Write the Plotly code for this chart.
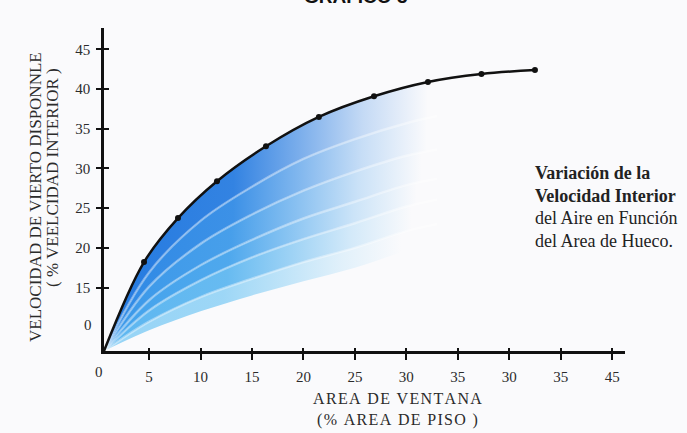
import plotly.graph_objects as go

# Interior air speed (% of available wind speed) against window area (% of floor area)
CURVE_X = [0.62, 4.51, 7.81, 11.60, 16.36, 21.50, 26.86, 32.10, 37.30, 42.50]
CURVE_Y = [7.0, 18.2, 23.75, 28.4, 32.8, 36.5, 39.1, 40.9, 41.9, 42.4]

# Axis ticks (labels as printed on the chart)
X_TICK_VALS = [5, 10, 15, 20, 25, 30, 35, 40, 45, 50]
X_TICK_TEXT = ["5", "10", "15", "20", "25", "30", "35", "30", "35", "45"]
Y_TICK_VALS = [15, 20, 25, 30, 35, 40, 45]
Y_TICK_TEXT = ["15", "20", "25", "30", "35", "40", "45"]

# Blue fan under the curve: lower edge and the light streaks inside it
FAN_X = [0.62, 5, 10, 15, 20, 25, 30, 33]
FAN_LOWER = [7.0, 9.6, 12.0, 14.0, 15.8, 17.5, 19.6, 20.5]
FAN_STREAKS = [
    [7.0, 10.7, 13.8, 16.1, 18.2, 20.0, 22.1, 23.0],
    [7.0, 12.1, 15.9, 18.8, 21.1, 23.1, 25.2, 26.1],
    [7.0, 13.4, 17.8, 21.0, 23.7, 25.8, 27.9, 28.7],
    [7.0, 15.1, 20.5, 24.2, 27.2, 29.6, 31.6, 32.4],
    [7.0, 16.9, 23.4, 27.7, 31.2, 33.7, 35.7, 36.6],
]
BAND_RGB = [(150, 212, 246), (92, 182, 240), (66, 162, 236),
            (58, 152, 233), (46, 137, 229), (36, 122, 224)]
BAND_STOP = [29.5, 30.5, 31.0, 31.5, 32.0, 32.1]

SERIF = "Liberation Serif, Times New Roman, serif"
INK = "#2b2b2b"
BG = "#fafafc"
HAIR = "\u200a"


def fade_scale(rgb):
    r, g, b = rgb
    stops = [(0.0, 1.0), (0.4, 0.93), (0.6, 0.6), (0.8, 0.25), (1.0, 0.0)]
    return [[p, f"rgba({r},{g},{b},{a})"] for p, a in stops]


def spaced(text):
    return HAIR.join(text)


fig = go.Figure()

# lower edge of the fan (no fill)
fig.add_trace(go.Scatter(x=FAN_X, y=FAN_LOWER, mode="lines",
                         line=dict(width=0, shape="spline"),
                         hoverinfo="skip", showlegend=False))

edges = [(FAN_X, s) for s in FAN_STREAKS] + [(CURVE_X[:8], CURVE_Y[:8])]
for i, (ex, ey) in enumerate(edges):
    is_top = i == len(edges) - 1
    fig.add_trace(go.Scatter(
        x=ex, y=ey, mode="lines", fill="tonexty",
        fillgradient=dict(type="horizontal", colorscale=fade_scale(BAND_RGB[i]),
                          start=0.62, stop=BAND_STOP[i]),
        line=dict(width=0 if is_top else 2.5, shape="spline",
                  color="rgba(255,255,255,0.38)"),
        hoverinfo="skip", showlegend=False))

# black curve with its points
fig.add_trace(go.Scatter(x=CURVE_X, y=CURVE_Y, mode="lines",
                         line=dict(color="#111111", width=2.5, shape="spline"),
                         hoverinfo="skip", showlegend=False))
fig.add_trace(go.Scatter(x=CURVE_X[1:], y=CURVE_Y[1:], mode="markers",
                         marker=dict(color="#111111", size=6),
                         hoverinfo="skip", showlegend=False))

axis_common = dict(showgrid=False, zeroline=False, linecolor="#111111",
                   linewidth=2.5, showline=True, ticks="outside",
                   tickcolor="#111111", tickwidth=1.5,
                   tickfont=dict(family=SERIF, size=15, color=INK))

fig.update_layout(
    width=687, height=433,
    margin=dict(l=104, r=62, t=28, b=82),
    paper_bgcolor=BG, plot_bgcolor=BG,
    xaxis=dict(range=[0.62, 51.25], tickvals=X_TICK_VALS, ticktext=X_TICK_TEXT,
               ticklen=6, ticklabelstandoff=4, **axis_common),
    yaxis=dict(range=[7.0, 47.7], tickvals=Y_TICK_VALS, ticktext=Y_TICK_TEXT,
               ticklen=5, ticklabelstandoff=3, **axis_common),
    xaxis2=dict(overlaying="x", matches="x", anchor="y", side="bottom",
                tickvals=X_TICK_VALS, ticks="inside", ticklen=3,
                tickcolor="#111111", tickwidth=1.5, showticklabels=False,
                showgrid=False, zeroline=False, showline=False),
    yaxis2=dict(overlaying="y", matches="y", anchor="x", side="left",
                tickvals=Y_TICK_VALS, ticks="inside", ticklen=5,
                tickcolor="#111111", tickwidth=1.5, showticklabels=False,
                showgrid=False, zeroline=False, showline=False),
    showlegend=False,
)
# a hidden trace so the overlay axes are drawn
fig.add_trace(go.Scatter(x=[None], y=[None], xaxis="x2", yaxis="y2",
                         showlegend=False, hoverinfo="skip"))


def px_x(px):
    return (px - 104) / 521


def px_y(py):
    return (351 - py) / 323


def label(text, x, y, size, **kw):
    d = dict(text=text, xref="paper", yref="paper", x=x, y=y,
             xanchor="center", yanchor="middle", showarrow=False,
             font=dict(family=SERIF, size=size, color=INK))
    d.update(kw)
    return d


ann = []
# origin labels
ann.append(label("0", px_x(99), px_y(372), 15))
ann.append(label("0", px_x(88), px_y(325), 15))
# title (top of page)
ann.append(dict(text="<b>GRÁFICO 3</b>", xref="paper", yref="paper",
                x=px_x(355), y=1, yshift=19, xanchor="center",
                yanchor="bottom", showarrow=False,
                font=dict(family="Liberation Sans, Arial, sans-serif", size=19,
                          color="#111111")))
# axis titles
ann.append(label(spaced("AREA DE VENTANA") + "<br>" + spaced("(% AREA DE PISO )"),
                 px_x(397), px_y(410), 16))
ann.append(label("VELOCIDAD DE VIERTO DISPONNLE", px_x(35), px_y(197), 17,
                 textangle=-90))
ann.append(label("( % VEELCIDAD INTERIOR )", px_x(52), px_y(178), 17,
                 textangle=-90))
# side note
NOTE_LINES = ["<b>Variación de la</b>", "<b>Velocidad Interior</b>",
              "del Aire en Función", "del Area de Hueco."]
for k, line in enumerate(NOTE_LINES):
    ann.append(label(line, px_x(533), px_y(173 + 22.7 * k), 18,
                     xanchor="left", align="left",
                     font=dict(family=SERIF, size=18, color="#222222")))
fig.update_layout(annotations=ann)

fig.write_html("out.html")
